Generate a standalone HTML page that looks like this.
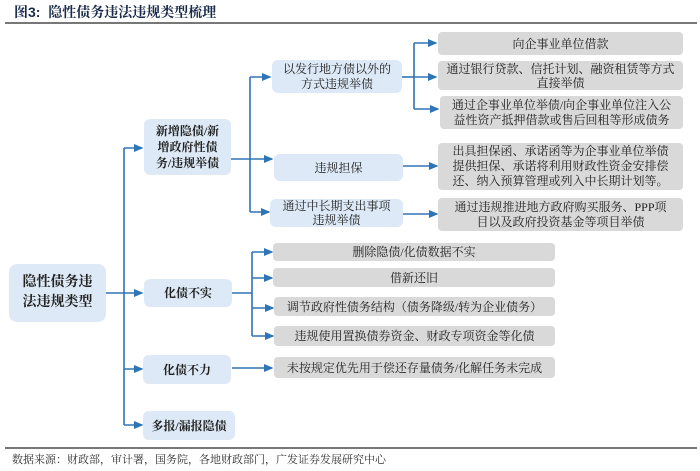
<!DOCTYPE html>
<html><head><meta charset="utf-8">
<style>
body{margin:0;width:700px;height:471px;background:#fff;position:relative;overflow:hidden;font-family:"Liberation Serif","Noto Serif CJK SC",serif;color:#222}
.b{position:absolute;display:flex;align-items:center;justify-content:center;text-align:center;border-radius:6px;font-size:12px;line-height:16px}
.bl{background:#dde9f6}
.g{background:#d9d9d9;border-radius:4px}
.bold{font-weight:bold}
svg{position:absolute;left:0;top:0}
</style></head><body>
<div style="position:absolute;left:14px;top:2px;font-size:14px;font-weight:bold;font-family:'Liberation Sans','Noto Serif CJK SC',serif;color:#1a2a4a">图3:&nbsp; 隐性债务违法违规类型梳理</div>
<div style="position:absolute;left:5px;top:22px;width:692px;height:1.5px;background:#777"></div>
<svg width="700" height="471">
<defs><marker id="a" markerWidth="6" markerHeight="6" refX="5" refY="3" orient="auto"><path d="M0,0.5 L6,3 L0,5.5z" fill="#2e75b6"/></marker></defs>
<g stroke="#2e75b6" stroke-width="1.6" fill="none">
<path d="M106 293H124"/>
<path d="M124 148V425"/>
<path d="M124 148H142" marker-end="url(#a)"/>
<path d="M124 293H142" marker-end="url(#a)"/>
<path d="M124 369H142" marker-end="url(#a)"/>
<path d="M124 425H142" marker-end="url(#a)"/>
<path d="M231 159H250"/>
<path d="M250 77V212"/>
<path d="M250 77H270" marker-end="url(#a)"/>
<path d="M250 159H272" marker-end="url(#a)"/>
<path d="M250 212H269" marker-end="url(#a)"/>
<path d="M402 77H414"/>
<path d="M414 43V109"/>
<path d="M414 43H436" marker-end="url(#a)"/>
<path d="M414 77H436" marker-end="url(#a)"/>
<path d="M414 109H438" marker-end="url(#a)"/>
<path d="M403 166H437" marker-end="url(#a)"/>
<path d="M403 214H437" marker-end="url(#a)"/>
<path d="M232 293H252"/>
<path d="M252 252V336"/>
<path d="M252 252H272" marker-end="url(#a)"/>
<path d="M252 278H272" marker-end="url(#a)"/>
<path d="M252 308H273" marker-end="url(#a)"/>
<path d="M252 336H273" marker-end="url(#a)"/>
<path d="M232 368H272" marker-end="url(#a)"/>
</g></svg>
<div class="b bl bold" style="left:9px;top:264px;width:97px;height:58px;font-size:14px;line-height:20px;border-radius:8px">隐性债务违<br>法违规类型</div>
<div class="b bl bold" style="left:144px;top:119px;width:87px;height:56px;line-height:16px">新增隐债/新<br>增政府性债<br>务/违规举债</div>
<div class="b bl bold" style="left:144px;top:279px;width:88px;height:28px">化债不实</div>
<div class="b bl bold" style="left:143px;top:355px;width:88px;height:29px">化债不力</div>
<div class="b bl bold" style="left:143px;top:411px;width:92px;height:29px">多报/漏报隐债</div>
<div class="b bl" style="left:272px;top:60px;width:130px;height:33px;line-height:15px">以发行地方债以外的<br>方式违规举债</div>
<div class="b bl" style="left:274px;top:154px;width:129px;height:27px">违规担保</div>
<div class="b bl" style="left:270px;top:199px;width:133px;height:28px;line-height:14px">通过中长期支出事项<br>违规举债</div>
<div class="b g" style="left:438px;top:32px;width:245px;height:23px">向企事业单位借款</div>
<div class="b g" style="left:438px;top:61px;width:245px;height:29px;line-height:14px">通过银行贷款、信托计划、融资租赁等方式<br>直接举债</div>
<div class="b g" style="left:440px;top:96px;width:243px;height:33px;line-height:15px">通过企事业单位举债/向企事业单位注入公<br>益性资产抵押借款或售后回租等形成债务</div>
<div class="b g" style="left:438px;top:143px;width:245px;height:47px;line-height:15px">出具担保函、承诺函等为企事业单位举债<br>提供担保、承诺将利用财政性资金安排偿<br>还、纳入预算管理或列入中长期计划等。</div>
<div class="b g" style="left:438px;top:198px;width:245px;height:33px;line-height:15px">通过违规推进地方政府购买服务、PPP项<br>目以及政府投资基金等项目举债</div>
<div class="b g" style="left:273px;top:243px;width:282px;height:18px">删除隐债/化债数据不实</div>
<div class="b g" style="left:273px;top:268px;width:282px;height:19px">借新还旧</div>
<div class="b g" style="left:274px;top:297px;width:281px;height:19px">调节政府性债务结构（债务降级/转为企业债务）</div>
<div class="b g" style="left:274px;top:326px;width:281px;height:20px">违规使用置换债券资金、财政专项资金等化债</div>
<div class="b g" style="left:274px;top:357px;width:281px;height:21px">未按规定优先用于偿还存量债务/化解任务未完成</div>
<div style="position:absolute;left:5px;top:447px;width:692px;height:1.5px;background:#777"></div>
<div style="position:absolute;left:12px;top:451px;font-size:11px;color:#333">数据来源：财政部，审计署，国务院，各地财政部门，广发证券发展研究中心</div>
</body></html>
